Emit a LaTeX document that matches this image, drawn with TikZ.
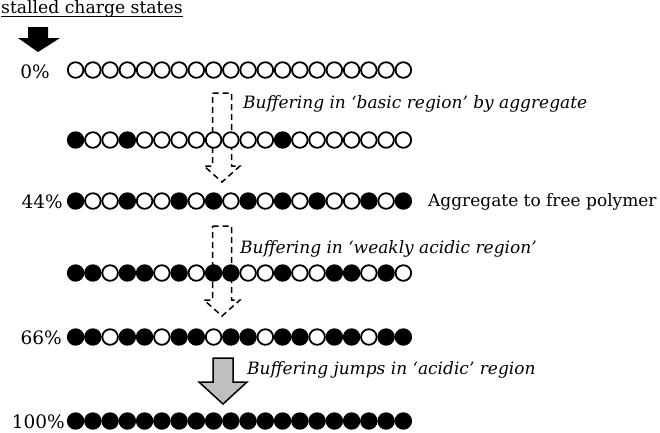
\documentclass[tikz,border=0pt]{standalone}
\usepackage{fontspec}
\setmainfont{DejaVu Serif}
\newcommand\beadrow[3]{\foreach \b [count=\i] in {#3} {\node[bead,bead\b] (#1-\i) at ({75.6+17.25*(\i-1)},#2) {};}}
\begin{document}
\begin{tikzpicture}[x=1pt,y=-1pt,
  bead/.style={circle,draw,line width=1.8pt,minimum size=15.6pt,inner sep=0pt},
  bead0/.style={fill=white},
  bead1/.style={fill=black},
  lbl/.style={inner sep=0pt,font=\fontsize{18.5}{20}\selectfont,anchor=base east},
  note/.style={inner sep=0pt,font=\fontsize{17}{20}\selectfont\itshape,anchor=base west},
  plain/.style={inner sep=0pt,font=\fontsize{17}{20}\selectfont,anchor=base west},
  dasharrow/.style={draw,line width=1.5pt,dash pattern=on 6pt off 4pt},
  grayarrow/.style={draw,line width=1.5pt,fill=black!25},
  blackarrow/.style={fill=black}]
\useasboundingbox (0,0) rectangle (660,432);
% title
\node[inner sep=0pt,font=\fontsize{17.2}{19}\selectfont,anchor=base west] (st) at (1,13) {stalled charge states};
\draw[line width=1pt] ([yshift=-3.5pt]st.base west) -- ([yshift=-3.5pt]st.base east);
% arrows
\fill[blackarrow] (28,27) -- (48,27) -- (48,38) -- (60,38) -- (38,52) -- (18,38) -- (28,38) -- cycle;
\draw[dasharrow] (212.5,93) -- (231.5,93) -- (231.5,166) -- (240,166) -- (222,182) -- (204,166) -- (212.5,166) -- cycle;
\draw[dasharrow] (212.5,226) -- (231.5,226) -- (231.5,300) -- (240,300) -- (222,316) -- (204,300) -- (212.5,300) -- cycle;
\draw[grayarrow] (213,358) -- (233,358) -- (233,382) -- (247,382) -- (223,404) -- (199,382) -- (213,382) -- cycle;
% rows
\beadrow{r1}{70}{0,0,0,0,0,0,0,0,0,0,0,0,0,0,0,0,0,0,0,0}
\beadrow{r2}{140}{1,0,0,1,0,0,0,0,0,0,0,0,1,0,0,0,0,0,0,0}
\beadrow{r3}{201}{1,0,0,1,0,0,1,0,1,0,1,0,1,0,1,0,0,1,0,1}
\beadrow{r4}{273}{1,1,0,1,1,0,1,0,1,1,0,0,1,0,0,1,1,0,1,0}
\beadrow{r5}{337}{1,1,0,1,1,0,1,1,0,1,1,0,1,1,0,1,1,0,1,1}
\beadrow{r6}{421}{1,1,1,1,1,1,1,1,1,1,1,1,1,1,1,1,1,1,1,1}
% labels
\node[lbl] (p0) at (50,78) {0\%};
\node[lbl] (p44) at (63,208) {44\%};
\node[lbl] (p66) at (62,344) {66\%};
\node[lbl] (p100) at (65,428) {100\%};
\node[note] (t1) at (243,108) {Buffering in ‘basic region’ by aggregate};
\node[plain] (t2) at (428,206) {Aggregate to free polymer};
\node[note] (t3) at (240,253) {Buffering in ‘weakly acidic region’};
\node[note] (t4) at (247,374) {Buffering jumps in ‘acidic’ region};
\end{tikzpicture}
\end{document}
